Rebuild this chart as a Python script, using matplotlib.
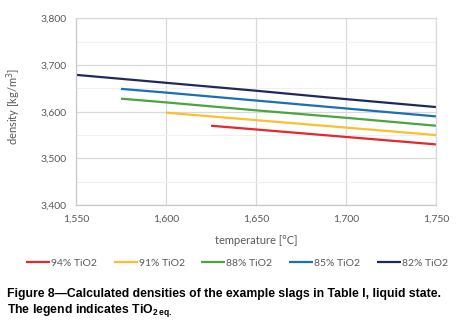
import matplotlib.pyplot as plt
from matplotlib.ticker import MultipleLocator, FuncFormatter

plt.rcParams['mathtext.fontset'] = 'custom'
plt.rcParams['mathtext.bf'] = 'Liberation Sans:bold'
plt.rcParams['mathtext.rm'] = 'Liberation Sans:bold'

# data
labels = ['94% TiO2', '91% TiO2', '88% TiO2', '85% TiO2', '82% TiO2']
colors = ['#e8262b', '#fdbf2d', '#4aa540', '#1a6fb5', '#1f2a5a']

t_94 = [1625, 1650, 1700, 1750]
d_94 = [3570, 3562, 3546, 3530]
t_91 = [1600, 1650, 1700, 1750]
d_91 = [3598, 3582, 3566, 3550]
t_88 = [1575, 1600, 1650, 1700, 1750]
d_88 = [3628, 3620, 3603, 3587, 3570]
t_85 = [1575, 1600, 1650, 1700, 1750]
d_85 = [3649, 3641, 3624, 3607, 3590]
t_82 = [1550, 1600, 1650, 1700, 1750]
d_82 = [3679, 3662, 3645, 3627, 3610]

series = [(t_94, d_94), (t_91, d_91), (t_88, d_88), (t_85, d_85), (t_82, d_82)]

fig = plt.figure(figsize=(4.63, 3.22), dpi=100)
ax = fig.add_axes([0.164, 0.363, 0.778, 0.58])

for (t, d), lab, c in zip(series, labels, colors):
    ax.plot(t, d, color=c, lw=1.6, label=lab, solid_capstyle='butt')

ax.set_xlim(1550, 1750)
ax.set_ylim(3400, 3800)
ax.xaxis.set_major_locator(MultipleLocator(50))
ax.yaxis.set_major_locator(MultipleLocator(100))
ax.yaxis.set_minor_locator(MultipleLocator(50))
fmt = FuncFormatter(lambda v, p: f'{int(v):,}')
ax.xaxis.set_major_formatter(fmt)
ax.yaxis.set_major_formatter(fmt)

ax.grid(which='major', color='#d9d9d9', lw=0.9)
ax.grid(which='minor', axis='y', color='#f0f0f0', lw=0.8)
ax.set_axisbelow(True)
for s in ax.spines.values():
    s.set_color('#d9d9d9')
    s.set_linewidth(0.9)
ax.spines['left'].set_color('#c8c8c8')
ax.spines['bottom'].set_color('#c8c8c8')

ax.tick_params(which='both', length=0, labelsize=7.5, labelcolor='#595959', pad=7)
for lab in ax.get_xticklabels() + ax.get_yticklabels():
    lab.set_fontfamily('Lato')

ax.set_xlabel('temperature [°C]', fontsize=8, color='#595959', family='Lato', labelpad=8)
ax.set_ylabel('density [kg/m$^3$]', fontsize=8, color='#595959', family='Lato')
ax.yaxis.label.set_math_fontfamily('dejavusans')
ax.yaxis.set_label_coords(-0.148, 0.53)

leg = fig.legend(loc='center', bbox_to_anchor=(0.512, 0.183), ncol=5, frameon=False,
                 prop={'family': 'Lato', 'size': 7.5}, handlelength=2.3,
                 handletextpad=0.1, columnspacing=1.6)
for txt in leg.get_texts():
    txt.set_color('#595959')

fig.text(0.015, 0.087, 'Figure 8\u2014Calculated densities of the example slags in Table I, liquid state.',
         family='Liberation Sans', weight='bold', fontsize=8.8, va='center')
fig.text(0.015, 0.035, r'The legend indicates TiO$_{\mathbf{2\,eq.}}$',
         family='Liberation Sans', weight='bold', fontsize=8.8, va='center')

fig.savefig('out.png', dpi=100)
